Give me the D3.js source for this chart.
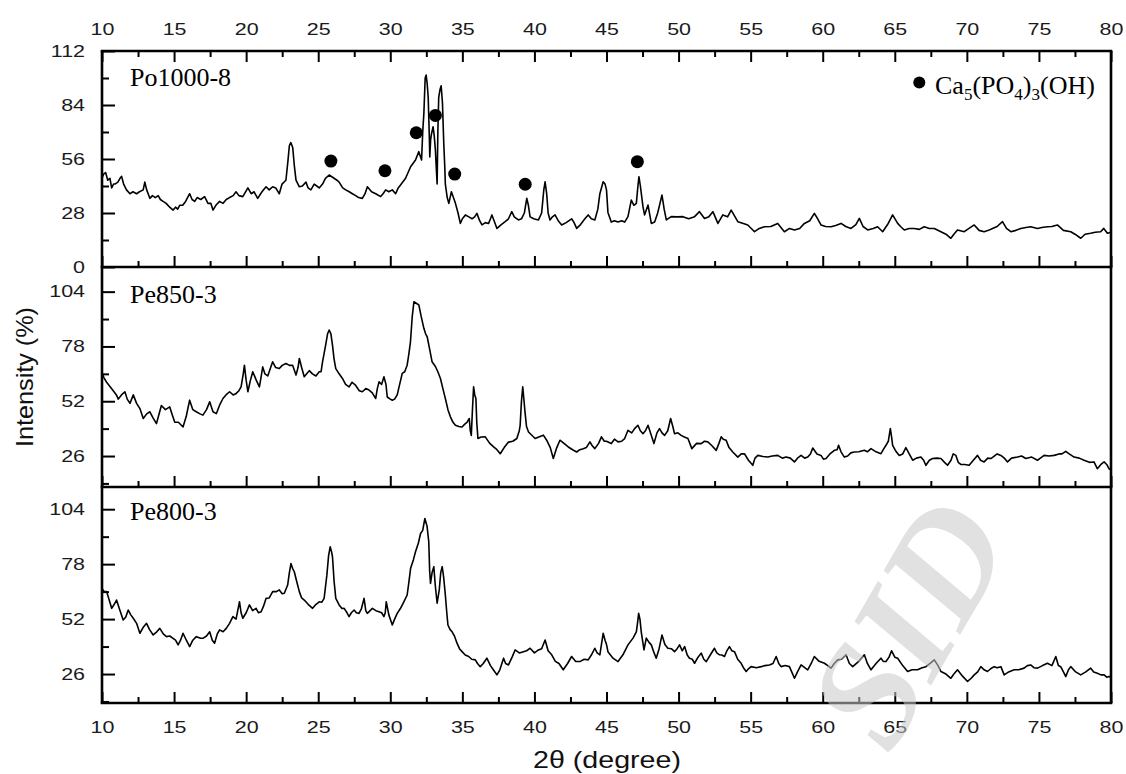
<!DOCTYPE html>
<html>
<head>
<meta charset="utf-8">
<script src="https://cdn.jsdelivr.net/npm/d3@7/dist/d3.min.js"></script>
<style>
  html, body { margin: 0; padding: 0; background: #fff; }
  svg { display: block; }
</style>
</head>
<body>
<svg id="chart" width="1126" height="774"></svg>
<script>
// ---------------- DATA ----------------
const panelNames = ["Po1000-8", "Pe850-3", "Pe800-3"];
const xTickValues = [10, 15, 20, 25, 30, 35, 40, 45, 50, 55, 60, 65, 70, 75, 80];
const topYTicks = [0, 28, 56, 84, 112];
const topYMinor = [14, 42, 70, 98];
const peYTicks = [26, 52, 78, 104];
const peYMinor = [13, 39, 65, 91];

// Po1000-8 : [2theta, intensity]
const po1000_8 = [
[10.0,46],[10.1,48],[10.25,49],[10.4,45],[10.55,46],[10.67,41],[10.8,43],[10.9,43],[11.1,44],[11.25,46],[11.36,47],[11.5,43],[11.7,40],[11.94,38],[12.15,39],[12.4,38],[12.6,39],[12.86,40],[12.97,44],[13.1,40],[13.32,35.6],[13.5,37],[13.7,36],[13.9,37],[14.05,35],[14.24,34],[14.45,33],[14.7,31],[14.93,29.5],[15.1,31],[15.25,30],[15.39,32],[15.6,32],[15.8,34],[16.08,38],[16.25,35],[16.43,34],[16.6,36],[16.85,35],[17.12,36.5],[17.35,33],[17.55,33],[17.7,29.5],[17.9,32],[18.16,34],[18.4,33],[18.62,35],[18.85,36],[19.1,37],[19.3,39],[19.5,37],[19.77,36.5],[20.12,41],[20.35,38],[20.55,39],[20.8,35.6],[21.1,39],[21.38,41.6],[21.6,40],[21.84,41.6],[22.05,41],[22.3,38],[22.49,43],[22.76,45],[22.9,55],[23.0,63],[23.1,64.5],[23.23,62],[23.35,52],[23.46,45],[23.69,41.6],[23.9,42],[24.15,44],[24.3,41],[24.49,40],[24.72,43],[24.9,42],[25.07,41],[25.3,43],[25.5,46],[25.76,47.7],[26.1,46],[26.3,45],[26.45,44],[26.7,41],[26.91,40],[27.15,39],[27.37,38],[27.6,37],[27.8,36],[28.06,35.6],[28.25,38],[28.41,41.6],[28.7,39],[28.99,38],[29.33,36.5],[29.5,38],[29.68,40],[29.9,39],[30.14,40],[30.37,38],[30.55,41],[30.71,42.5],[31.06,46],[31.41,52],[31.75,55.5],[31.98,59.8],[32.1,57],[32.17,55.5],[32.25,70],[32.33,79.7],[32.42,98],[32.49,99.5],[32.56,95],[32.63,88],[32.7,70],[32.74,57],[32.8,66],[32.86,69],[32.97,72.7],[33.05,68],[33.13,60.6],[33.2,50],[33.25,43],[33.3,70],[33.36,88],[33.45,92],[33.53,94],[33.62,85],[33.71,64],[33.78,52],[33.82,43],[33.95,36],[34.06,33],[34.15,36],[34.24,39],[34.38,36],[34.52,33],[34.7,28],[34.86,22.6],[35.0,25],[35.21,27],[35.45,26],[35.67,25],[35.85,26],[36.01,27.8],[36.2,24],[36.36,21.8],[36.6,23],[36.82,22.6],[36.95,25],[37.05,27],[37.2,24],[37.4,20],[37.7,22],[37.97,23.5],[38.2,25],[38.43,28.7],[38.6,26],[38.89,24.4],[39.1,25],[39.3,28],[39.47,35.6],[39.58,32],[39.7,26],[39.95,25],[40.28,24.4],[40.5,28],[40.65,40],[40.74,44.2],[40.85,38],[40.95,28],[41.08,24.4],[41.25,26],[41.43,27],[41.65,24],[41.89,21.8],[42.2,23],[42.58,25],[42.75,23],[42.93,20],[43.2,22],[43.5,25],[43.73,27],[43.95,25],[44.19,24.4],[44.4,30],[44.54,38],[44.77,44.2],[44.9,43],[45.0,40],
[45.1,28.3],[45.33,23.3],[45.55,24],[45.8,23.3],[46.05,24],[46.26,23.3],[46.49,26.1],[46.72,34.7],[46.9,32],[47.07,33],[47.18,42],[47.25,46.8],[47.35,42],[47.53,31.3],[47.64,27],[47.88,32.1],[48.11,22.6],[48.34,23.3],[48.55,28],[48.68,32.1],[48.85,37.3],[49.0,30],[49.15,24.4],[49.49,26.1],[49.9,26],[50.3,26.1],[50.7,25],[51.11,26.1],[51.45,28.7],[51.8,25.2],[52.1,26],[52.38,28.7],[52.73,22.6],[53.07,27],[53.4,26],[53.65,29.5],[54.11,23.5],[54.5,22.5],[54.8,21.8],[55.27,18.3],[55.6,20],[55.96,20.9],[56.4,21],[56.88,22.6],[57.34,18.3],[57.7,20],[58.04,19.2],[58.4,20],[58.73,22.6],[59.1,24],[59.42,27.8],[59.65,25],[59.88,21.8],[60.2,21],[60.58,20.9],[60.9,21.5],[61.27,22.6],[61.6,21],[61.96,20],[62.3,22],[62.54,25.2],[62.8,21],[63.12,19.2],[63.5,20],[63.81,20.9],[64.16,18.3],[64.5,22],[64.85,27],[65.2,22.6],[65.4,21],[65.66,19.2],[66.0,20],[66.35,20],[66.7,19.5],[67.04,20.9],[67.4,20],[67.74,20],[68.2,18.3],[68.55,17],[68.89,14.9],[69.1,17],[69.35,19.2],[69.82,18.3],[70.15,20],[70.51,21.8],[70.85,19],[71.2,18.3],[71.5,19],[71.78,20],[72.1,21],[72.47,23.5],[72.75,20],[73.05,18.3],[73.4,19],[73.74,20],[74.1,20.5],[74.43,20.9],[74.9,20],[75.2,20.5],[75.59,20.9],[75.9,21],[76.28,21.8],[76.7,19],[77.21,18.3],[77.5,17],[77.9,14.9],[78.2,17],[78.59,17.5],[78.9,18],[79.28,18.3],[79.5,20],[79.75,17.5],[80,18]
];

// Pe850-3
const pe850_3 = [
[10,65.2],[10.15,63],[10.32,61],[10.55,59],[10.78,57],[11.0,55],[11.13,53],[11.35,55],[11.59,56.5],[11.75,53],[11.94,51],[12.17,55],[12.4,51],[12.63,48.5],[12.86,43.8],[13.1,46],[13.32,47],[13.55,44],[13.78,41.4],[14.12,50],[14.4,48],[14.7,49.3],[14.9,45],[15.05,42],[15.3,42],[15.62,39.8],[15.85,45],[16.08,52.5],[16.3,48],[16.54,47],[16.8,46],[17.0,45.4],[17.25,48],[17.47,51.7],[17.7,47],[17.93,46.1],[18.15,50],[18.39,53.3],[18.6,55],[18.85,56.5],[19.1,55],[19.31,55.7],[19.5,57],[19.65,58.8],[19.8,65],[19.88,69.1],[20.0,62],[20.12,56.5],[20.3,62],[20.46,66],[20.7,62],[20.92,58.8],[21.05,64],[21.15,68.3],[21.3,65],[21.5,64],[21.7,68],[21.84,70.7],[22.05,68],[22.3,67.5],[22.5,69],[22.76,69.9],[23.0,69],[23.23,69],[23.46,64.4],[23.6,68],[23.69,72.3],[23.85,68],[24.03,63.6],[24.2,65],[24.38,66.5],[24.6,65],[24.84,64],[25.07,66],[25.2,66],[25.3,70.7],[25.5,78],[25.65,84],[25.76,85.8],[25.88,84],[25.99,78.6],[26.1,72],[26.22,67.5],[26.45,65],[26.68,62.8],[26.9,60],[27.14,58.8],[27.35,61],[27.6,59.5],[27.85,57],[28.06,56.5],[28.3,58],[28.53,57.3],[28.75,56],[28.99,53.3],[29.1,58],[29.22,61.2],[29.4,60],[29.56,63.6],[29.7,60],[29.79,54],[30.0,53],[30.14,52.5],[30.3,53],[30.48,55],[30.65,60],[30.83,65.2],[31.0,66],[31.17,69.1],[31.3,75],[31.4,80.2],[31.52,92],[31.64,99.2],[31.8,98.5],[31.98,97.7],[32.15,92],[32.33,86.6],[32.45,84],[32.56,82.6],[32.75,76],[32.9,70.7],[33.13,68.5],[33.3,66],[33.48,62.8],[33.65,58],[33.82,53.3],[34.0,48],[34.17,44.6],[34.35,42],[34.52,40.6],[34.75,40],[34.98,39.8],[35.15,41],[35.32,42],[35.48,43.8],[35.55,38],[35.62,35.8],[35.7,48],[35.78,58.8],[35.86,55],[35.94,53.3],[36.0,42],[36.08,34.3],[36.3,35],[36.59,35.1],[36.9,32],[37.17,30.3],[37.4,29],[37.63,27.1],[37.9,30],[38.2,32.6],[38.5,33],[38.78,34.3],[38.95,38],[39.01,40.6],[39.1,52],[39.19,58.8],[39.28,52],[39.35,46.6],[39.45,40],[39.59,37.4],[39.8,36],[40.05,34.3],[40.3,35],[40.62,35.9],[40.85,33.5],[41.1,30],[41.31,24.8],[41.55,30],[41.77,33.5],[42.05,32],[42.35,30.3],[42.65,29],[42.93,27.9],[43.15,29],[43.39,29.5],[43.6,30],[43.85,32.7],[44.0,31],[44.19,29.5],[44.45,32],[44.65,35.1],[44.85,33],[45.0,33],
[45.33,31.9],[45.55,34],[45.8,32.7],[46.05,33],[46.26,34.3],[46.49,38.2],[46.75,37],[46.95,39],[47.18,40.6],[47.35,38],[47.53,36.6],[47.7,38],[47.88,40.6],[48.1,36],[48.29,31.9],[48.5,37],[48.68,39],[48.85,37],[49.03,35.8],[49.25,38],[49.45,43.8],[49.6,40],[49.72,36.6],[49.95,37],[50.18,35.8],[50.4,35],[50.65,34.3],[50.92,29.5],[51.25,32],[51.57,31.9],[51.8,33],[52.03,32.7],[52.3,31],[52.61,28.7],[52.8,32],[52.96,35.1],[53.1,34],[53.3,33.5],[53.5,30],[53.76,27.9],[54.11,25.5],[54.35,27],[54.57,27.1],[54.85,24],[55.15,21.6],[55.3,25],[55.5,26.3],[55.85,25.8],[56.19,25.5],[56.5,26],[56.88,26.3],[57.2,25],[57.46,25.5],[57.75,25],[58.04,23.2],[58.25,25],[58.5,26.3],[58.75,25],[58.96,25.5],[59.15,27],[59.31,29.8],[59.6,27],[59.88,26.3],[60.05,24.5],[60.23,24.8],[60.5,27],[60.81,28.7],[61.0,29],[61.1,31.1],[61.27,28],[61.5,25.5],[61.73,26],[61.95,27.5],[62.19,27.9],[62.5,28],[62.89,28.7],[63.1,28],[63.35,29.5],[63.7,28],[64.04,27.1],[64.2,29],[64.39,31.1],[64.55,33],[64.69,39],[64.78,35],[64.85,31.1],[65.1,28],[65.31,26.3],[65.55,27],[65.77,30],[66.0,27],[66.24,24],[66.5,25],[66.81,25.5],[67.0,24],[67.16,21.6],[67.4,24],[67.62,24.8],[67.9,25],[68.2,24.8],[68.45,23],[68.66,21.6],[68.9,24],[69.05,27],[69.24,26.3],[69.4,23],[69.58,22],[69.85,22],[70.16,21.6],[70.45,24],[70.74,26.3],[70.95,24],[71.2,23.2],[71.45,25],[71.66,24.8],[71.9,26],[72.1,27],[72.36,26.3],[72.6,25],[72.82,23.2],[73.1,25],[73.51,25.5],[73.8,26],[74.09,24.8],[74.5,25.5],[74.9,24],[75.1,25],[75.36,26.3],[75.7,26],[76.05,26.3],[76.4,27],[76.6,27],[76.86,28.2],[77.1,27],[77.44,25.5],[77.8,25],[78.13,24],[78.5,23],[78.82,23.2],[79.05,20],[79.3,22],[79.52,23.2],[79.7,22],[79.86,20],[80,19.5]
];

// Pe800-3
const pe800_3 = [
[10,66.5],[10.15,65],[10.32,65],[10.5,61],[10.67,57.1],[10.85,59],[11.01,61],[11.2,57],[11.47,51.6],[11.65,53],[11.82,56.3],[12.0,54],[12.17,52.4],[12.4,50],[12.63,45.3],[12.85,48],[13.09,50],[13.3,47],[13.55,44.5],[13.8,46],[14.01,47.6],[14.25,45],[14.47,43.7],[14.7,44],[14.93,42.9],[15.1,42],[15.28,39.8],[15.45,42],[15.62,45.3],[15.85,42],[16.08,39],[16.3,42],[16.54,43.7],[16.8,43],[17.0,42.9],[17.25,44],[17.47,46],[17.65,42],[17.81,40.6],[18.0,45],[18.16,46.9],[18.4,46],[18.62,47.6],[18.85,50],[19.08,53.2],[19.3,52],[19.54,60.2],[19.65,55],[19.77,52.4],[20.0,55],[20.23,58.7],[20.45,56],[20.69,57.1],[20.85,55],[21.04,55.5],[21.2,58],[21.38,61.8],[21.6,62],[21.84,65],[22.1,65],[22.3,65.8],[22.5,64],[22.65,64.2],[22.88,68.1],[23.0,74],[23.11,78.3],[23.22,76],[23.34,74.4],[23.5,70],[23.69,65],[23.85,62],[24.03,61],[24.3,59],[24.61,57.1],[24.85,59],[25.07,60.2],[25.25,60],[25.41,61.8],[25.6,72.8],[25.72,82],[25.83,86.2],[25.92,84],[25.99,81.5],[26.1,70],[26.22,61.8],[26.45,58.7],[26.65,57],[26.8,57.1],[27.0,55],[27.14,53.2],[27.3,55],[27.49,56.3],[27.65,55],[27.83,54.7],[28.0,57],[28.18,61.8],[28.3,56],[28.41,54.7],[28.6,56],[28.76,57.1],[29.0,56],[29.22,55.5],[29.4,55],[29.56,53.2],[29.65,55],[29.72,60.2],[29.9,54],[30.14,49.2],[30.3,52],[30.48,54.7],[30.7,57],[30.94,60.2],[31.17,63.4],[31.3,70],[31.41,76],[31.6,80],[31.75,83.9],[31.95,88],[32.1,92.5],[32.25,94],[32.4,99.6],[32.55,96],[32.67,88.6],[32.73,75],[32.79,68.9],[32.9,74],[33.02,76.8],[33.12,68],[33.25,59.5],[33.4,66],[33.5,74],[33.6,76.8],[33.7,72],[33.82,63.4],[33.92,55],[34.0,49.2],[34.15,47],[34.29,46],[34.45,44],[34.63,40.6],[34.8,38],[34.98,36.6],[35.2,35],[35.44,34.3],[35.65,33],[35.9,32.7],[36.05,31],[36.24,29.5],[36.45,31],[36.7,33.5],[36.95,30],[37.15,28],[37.4,25.6],[37.6,28],[37.86,33.5],[38.0,31],[38.2,30.3],[38.45,34],[38.66,37.4],[38.95,36],[39.24,36.6],[39.45,37],[39.7,38.2],[40.0,36],[40.28,37.4],[40.5,38],[40.74,42.1],[40.95,37],[41.2,35.1],[41.45,32],[41.7,31],[42.0,28],[42.3,31],[42.58,34.3],[42.85,32],[43.16,31.9],[43.45,33],[43.73,32.7],[43.95,35],[44.19,38.2],[44.35,36],[44.54,35.1],[44.65,40],[44.77,45.3],[44.9,42],[45.0,40],
[45.1,36.6],[45.45,33.5],[45.8,31.9],[46.14,35.1],[46.49,39.8],[46.84,43],[47.07,46],[47.15,50],[47.23,54.7],[47.32,52],[47.41,46],[47.6,37.4],[47.76,43],[47.95,41],[48.11,39.8],[48.3,36],[48.45,33.5],[48.65,38],[48.85,44.5],[49.05,40],[49.26,38.2],[49.5,38],[49.72,36.6],[49.9,38],[50.07,39.8],[50.25,37],[50.42,39],[50.6,35],[50.76,33.5],[50.95,33],[51.11,31.1],[51.35,34],[51.57,35.9],[51.75,33],[51.92,31.9],[52.2,35],[52.49,38.2],[52.65,36],[52.84,35.1],[53.0,35],[53.19,34.3],[53.35,37],[53.53,39],[53.7,37],[53.88,36.6],[54.1,33],[54.34,31.1],[54.5,29],[54.69,27.2],[54.85,28.5],[55.03,29.5],[55.4,29],[55.73,29.5],[56.0,30],[56.3,30.3],[56.55,31],[56.77,34.3],[56.95,31],[57.11,29.5],[57.4,30],[57.69,29.5],[57.85,27],[58.04,24],[58.25,27],[58.5,30.3],[58.75,29],[58.96,28],[59.2,31],[59.42,34.3],[59.75,32],[60.12,31.1],[60.35,30],[60.58,28.8],[60.8,31],[61.04,32.7],[61.3,33],[61.62,35.1],[61.85,31],[62.08,29.5],[62.5,32],[62.89,35.1],[63.1,31],[63.35,28],[63.7,31],[64.04,33.5],[64.2,32],[64.39,31.9],[64.6,34],[64.78,37],[65.0,34],[65.2,33.5],[65.55,30],[65.89,27.2],[66.2,28],[66.58,28],[66.9,29],[67.16,29.5],[67.45,31],[67.74,32.7],[68.0,30],[68.2,27.2],[68.55,26],[68.89,24],[69.1,26],[69.35,28],[69.7,25],[70.05,22.5],[70.3,24],[70.51,25.6],[70.75,27],[70.97,29.5],[71.2,28],[71.43,27.2],[71.65,28.5],[71.89,29.5],[72.1,29],[72.36,29.5],[72.59,25.6],[72.9,27],[73.28,28],[73.6,28],[73.97,28.8],[74.2,30],[74.43,30.3],[74.65,29],[74.9,28.8],[75.25,30],[75.59,31.1],[75.9,30],[76.17,34.3],[76.35,30],[76.51,29.5],[76.7,27],[76.86,24.8],[77.05,28],[77.21,29.5],[77.55,27],[77.9,25.6],[78.25,27],[78.59,28.8],[78.8,27],[79.05,26.4],[79.3,25.6],[79.52,25.6],[79.7,24.5],[79.86,24.8],[80,24.5]
];

// Ca5(PO4)3(OH) peak markers on Po1000-8: [2theta, intensity]
const hapMarkers = [[25.88,54.9],[29.63,49.9],[31.8,69.6],[33.13,78.6],[34.47,48.2],[39.36,42.9],[47.14,54.6]];
const legendMarker = [66.7, 95.7];

// ---------------- DRAW ----------------
const svg = d3.select("#chart");
const X0 = 102, X1 = 1111;
const x = d3.scaleLinear().domain([10, 80]).range([X0, X1]);

const panels = [
  { name: panelNames[0], data: po1000_8, y0: 51,  y1: 267, domain: [0, 112],      major: topYTicks, minor: topYMinor, labelY: 86 },
  { name: panelNames[1], data: pe850_3,  y0: 267, y1: 487, domain: [11.3, 115.7], major: peYTicks,  minor: peYMinor,  labelY: 303 },
  { name: panelNames[2], data: pe800_3,  y0: 487, y1: 703, domain: [12.3, 114.5], major: peYTicks,  minor: peYMinor,  labelY: 520 }
];

const xMinor = d3.range(12.5, 80, 5);
const tickFont = "'Liberation Sans', Arial, sans-serif";
const serif = "'Liberation Serif', 'Times New Roman', serif";

function styleAxis(g) {
  g.select(".domain").remove();
  g.selectAll("line").attr("stroke", "#000").attr("stroke-width", 2);
  g.selectAll("text").attr("fill", "#1a1a1a").style("font-family", tickFont).style("font-size", "16.5px")
    .each(function () {
      const t = d3.select(this);
      if (!t.text()) return;
      const w = this.getComputedTextLength();
      t.attr("textLength", w * 1.3).attr("lengthAdjust", "spacingAndGlyphs");
    });
}

panels.forEach((p, i) => {
  const y = d3.scaleLinear().domain(p.domain).range([p.y1, p.y0]);
  p.y = y;

  // left axis (major + minor), ticks inward
  svg.append("g").attr("transform", `translate(${X0},0)`)
    .call(d3.axisLeft(y).tickValues(p.major).tickSizeInner(-13).tickSizeOuter(0).tickPadding(17).tickFormat(d3.format("d")))
    .call(styleAxis);
  svg.append("g").attr("transform", `translate(${X0},0)`)
    .call(d3.axisLeft(y).tickValues(p.minor).tickSizeInner(-7).tickSizeOuter(0).tickFormat(""))
    .call(styleAxis);

  // bottom ticks of each panel pointing up
  const isLast = i === panels.length - 1;
  svg.append("g").attr("transform", `translate(0,${p.y1})`)
    .call(d3.axisBottom(x).tickValues(xTickValues).tickSizeInner(-11).tickSizeOuter(0).tickPadding(18)
      .tickFormat(isLast ? d3.format("d") : ""))
    .call(styleAxis);
  svg.append("g").attr("transform", `translate(0,${p.y1})`)
    .call(d3.axisBottom(x).tickValues(xMinor).tickSizeInner(-6).tickSizeOuter(0).tickFormat(""))
    .call(styleAxis);

  // curve
  const line = d3.line().x(d => x(d[0])).y(d => y(d[1]));
  svg.append("path").datum(p.data)
    .attr("d", line)
    .attr("fill", "none")
    .attr("stroke", "#000")
    .attr("stroke-width", 1.6)
    .attr("stroke-linejoin", "round");

  // panel label
  svg.append("text").attr("x", 130).attr("y", p.labelY)
    .style("font-family", serif).style("font-size", "26px").attr("fill", "#000")
    .text(p.name);
});

// top axis
svg.append("g").attr("transform", `translate(0,${panels[0].y0})`)
  .call(d3.axisTop(x).tickValues(xTickValues).tickSizeInner(-11).tickSizeOuter(0).tickPadding(16).tickFormat(d3.format("d")))
  .call(styleAxis);
svg.append("g").attr("transform", `translate(0,${panels[0].y0})`)
  .call(d3.axisTop(x).tickValues(xMinor).tickSizeInner(-6).tickSizeOuter(0).tickFormat(""))
  .call(styleAxis);

// frame lines
const frame = svg.append("g").attr("stroke", "#000").attr("stroke-width", 2.6).attr("fill", "none");
frame.append("line").attr("x1", X0).attr("x2", X0).attr("y1", 51).attr("y2", 703);
frame.append("line").attr("x1", X1).attr("x2", X1).attr("y1", 51).attr("y2", 703);
[51, 267, 487, 703].forEach(yy => {
  frame.append("line").attr("x1", X0 - 1.3).attr("x2", X1 + 1.3).attr("y1", yy).attr("y2", yy);
});

// markers
const yTop = panels[0].y;
svg.append("g").selectAll("circle").data(hapMarkers).join("circle")
  .attr("cx", d => x(d[0])).attr("cy", d => yTop(d[1])).attr("r", 6.5).attr("fill", "#000");

// legend
svg.append("circle").attr("cx", x(legendMarker[0])).attr("cy", yTop(legendMarker[1])).attr("r", 6).attr("fill", "#000");
const leg = svg.append("text").attr("x", 935).attr("y", 94)
  .style("font-family", serif).style("font-size", "26px").attr("fill", "#000");
leg.append("tspan").text("Ca");
leg.append("tspan").attr("dy", 6).style("font-size", "17px").text("5");
leg.append("tspan").attr("dy", -6).text("(PO");
leg.append("tspan").attr("dy", 6).style("font-size", "17px").text("4");
leg.append("tspan").attr("dy", -6).text(")");
leg.append("tspan").attr("dy", 6).style("font-size", "17px").text("3");
leg.append("tspan").attr("dy", -6).text("(OH)");

// axis titles
svg.append("text")
  .attr("transform", "translate(33,377) rotate(-90)")
  .attr("text-anchor", "middle")
  .attr("textLength", 140).attr("lengthAdjust", "spacingAndGlyphs")
  .style("font-family", tickFont).style("font-size", "24px").attr("fill", "#111")
  .text("Intensity (%)");
svg.append("text")
  .attr("x", 607).attr("y", 768)
  .attr("text-anchor", "middle")
  .attr("textLength", 148).attr("lengthAdjust", "spacingAndGlyphs")
  .style("font-family", tickFont).style("font-size", "24px").attr("fill", "#111")
  .text("2θ (degree)");

// watermark
svg.append("text")
  .attr("transform", "translate(1015,540) rotate(-60)")
  .attr("text-anchor", "end")
  .style("font-family", serif).style("font-size", "150px").style("font-style", "italic").style("font-weight", "bold")
  .attr("fill", "#c8c8c8").attr("fill-opacity", 0.55)
  .text("SID");
</script>
</body>
</html>
